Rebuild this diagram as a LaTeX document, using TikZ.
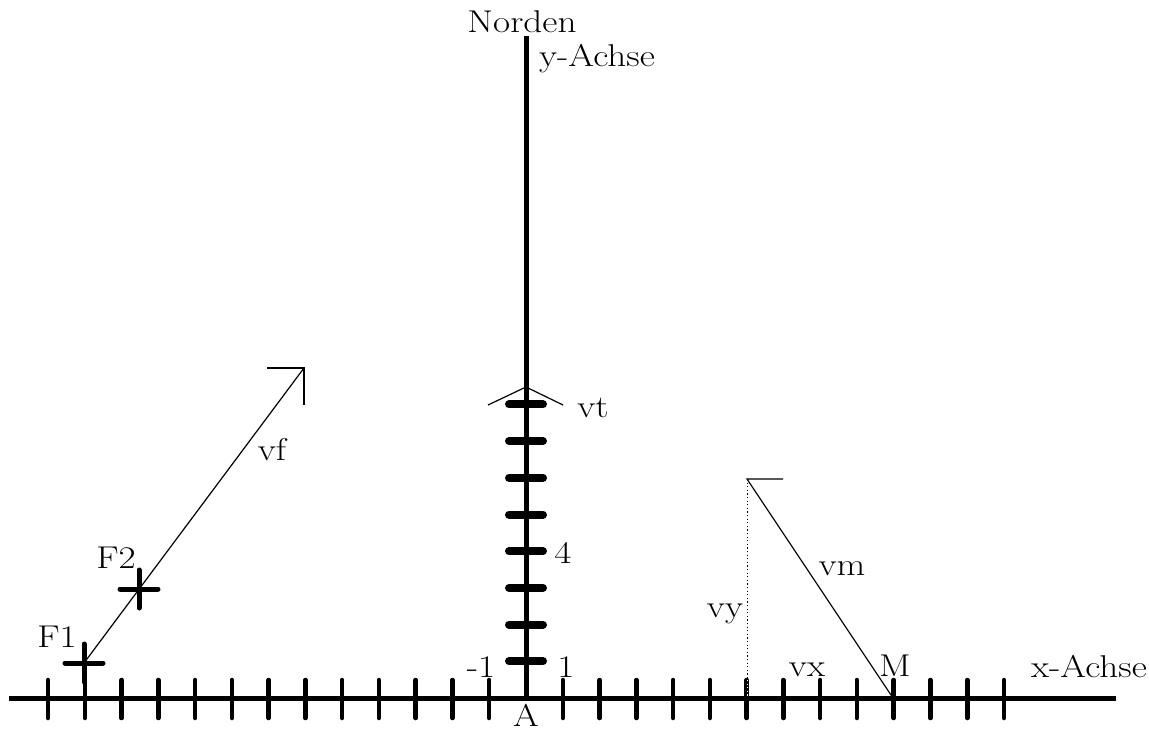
\documentclass[tikz,border=0pt]{standalone}
\usepackage{graphicx}
\newcommand\wtxt[1]{\scalebox{1.18}[1]{#1}}
\begin{document}
\begin{tikzpicture}[x=1pt,y=-1pt,
  lbl/.style={font=\fontsize{31.5}{38}\selectfont, inner sep=0pt, anchor=base},
  axisline/.style={line width=5pt},
  xtick/.style={line width=4.5pt, line cap=round},
  ybar/.style={line width=8pt, line cap=round},
  crossline/.style={line width=5pt, line cap=round},
  vec/.style={line width=1.2pt},
  dotline/.style={line width=1pt, dash pattern=on 1.2pt off 2.4pt},
]
\useasboundingbox (0,0) rectangle (1149,731);
% axes
\coordinate (A) at (526,698);
\coordinate (ytop) at (526,36);
\coordinate (xl) at (9,698);
\coordinate (xr) at (1116,698);
\foreach \k in {-13,...,-1,1,2,...,13}
  \draw[xtick] ({526+36.77*\k},680) -- ++(0,38);
\draw[axisline] (xl) -- (xr);
\draw[axisline] (A) -- (ytop);
\foreach \k in {1,...,8}
  \draw[ybar] (509,{698-36.7*\k}) -- (543,{698-36.7*\k});
% vt arrow head
\coordinate (vtTip) at (526,387);
\draw[vec] (vtTip) ++(-38,18) -- (vtTip) -- ++(37,18);
% F1, F2, vf
\coordinate (F1) at (84,663);
\coordinate (F2) at (139,589);
\coordinate (vfTip) at (304,368);
\foreach \p in {F1,F2}{
  \draw[crossline] (\p) ++(-19,0) -- ++(38,0);
  \draw[crossline] (\p) ++(0,-19) -- ++(0,38);
}
\draw[vec] (F1) -- (vfTip);
\draw[vec] (vfTip) ++(-37,0) -- (vfTip) -- ++(0,37);
% vm, vy
\coordinate (M) at (893,698);
\coordinate (vmTip) at (747,479);
\coordinate (vyFoot) at (747,680);
\coordinate (vyAxis) at (747,697);
\draw[vec] (M) -- (vmTip) -- ++(36,0);
\draw[dotline] (vmTip) -- (vyFoot);
\draw[dotline, white] (vyFoot) -- (vyAxis);
% labels
\node[lbl] (norden) at (522,32) {\wtxt{Norden}};
\node[lbl] (yachse) at (597,66) {\wtxt{y-Achse}};
\node[lbl] (xachse) at (1089,677) {\wtxt{x-Achse}};
\node[lbl] (lM) at (895,676) {\wtxt{M}};
\node[lbl] (lvx) at (807,676) {\wtxt{vx}};
\node[lbl] (lvy) at (725,617) {\wtxt{vy}};
\node[lbl] (lvm) at (842,575) {\wtxt{vm}};
\node[lbl] (lvt) at (593,417) {\wtxt{vt}};
\node[lbl] (lfour) at (563,563) {\wtxt{4}};
\node[lbl] (lone) at (566,677) {\wtxt{1}};
\node[lbl] (lmone) at (481,677) {\wtxt{-1}};
\node[lbl] (lA) at (526,726) {\wtxt{A}};
\node[lbl] (lF1) at (57,647) {\wtxt{F1}};
\node[lbl] (lF2) at (116,568) {\wtxt{F2}};
\node[lbl] (lvf) at (272,460) {\wtxt{vf}};
\end{tikzpicture}
\end{document}
